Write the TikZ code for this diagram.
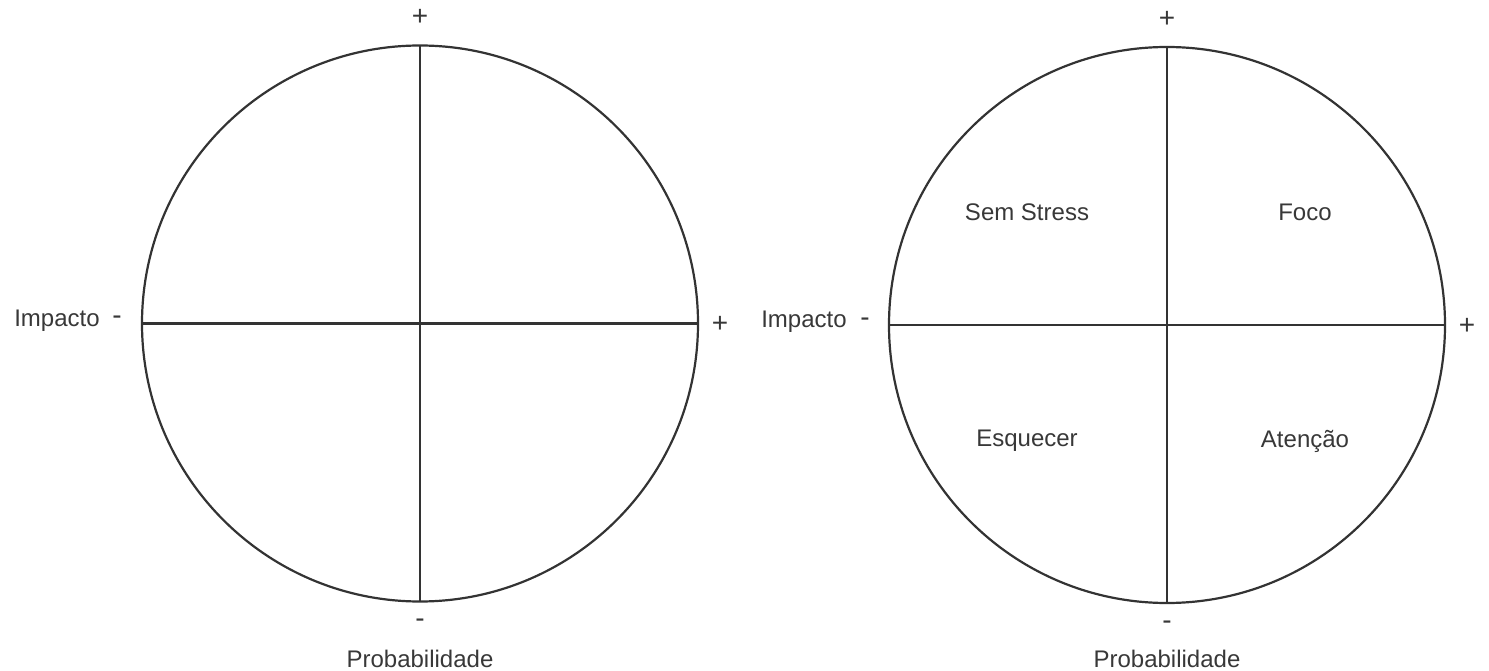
\documentclass[tikz,border=0pt]{standalone}
\usepackage{fontspec}
\setmainfont{Liberation Sans}
\usepackage{xcolor}
\usetikzlibrary{positioning, calc}
\definecolor{inkgray}{HTML}{333333}
\definecolor{textgray}{HTML}{383838}

\begin{document}
\begin{tikzpicture}[
	x=0.5pt, y=0.5pt,
	% --- Styles ---
	matrixcircle/.style={
		circle, draw=inkgray, line width=1.1pt, minimum size=278pt, inner sep=0pt, outer sep=0pt
	},
	axis/.style={
		draw=inkgray, line width=1.1pt
	},
	signlabel/.style={
		font=\fontsize{14}{16}\selectfont, text=textgray, inner sep=0pt
	},
	axislabel/.style={
		font=\fontsize{12}{14}\selectfont, text=textgray, inner sep=0pt
	},
	quadlabel/.style={
		font=\fontsize{12}{14}\selectfont, text=textgray, inner sep=0pt
	}
	]
	\useasboundingbox (0,0) rectangle (1489,670);

	% --- 1. Left matrix (empty) ---
	\node [matrixcircle] (lcirc) at (420,346.5) {};
	\draw [axis] (lcirc.north) -- (lcirc.south);
	\draw [axis] (lcirc.west) -- (lcirc.east);

	% Axis signs and names
	\node [signlabel] (ltop) at ($(lcirc.north)+(0,28)$) {+};
	\node [signlabel] (lright) at ($(lcirc.east)+(22,-1)$) {+};
	\node [signlabel] (lleft) at ($(lcirc.west)+(-25,3)$) {-};
	\node [signlabel] (lbot) at ($(lcirc.south)+(0,-22)$) {-};
	\node [axislabel] (limpact) at ($(lcirc.west)+(-85,3)$) {Impacto};
	\node [axislabel] (lprob) at ($(lcirc.south)+(0,-57)$) {Probabilidade};

	% --- 2. Right matrix (with quadrants) ---
	\node [matrixcircle] (rcirc) at (1167,345) {};
	\draw [axis] (rcirc.north) -- (rcirc.south);
	\draw [axis] (rcirc.west) -- (rcirc.east);

	% Axis signs and names
	\node [signlabel] (rtop) at ($(rcirc.north)+(0,28)$) {+};
	\node [signlabel] (rright) at ($(rcirc.east)+(22,-1)$) {+};
	\node [signlabel] (rleft) at ($(rcirc.west)+(-24,3)$) {-};
	\node [signlabel] (rbot) at ($(rcirc.south)+(0,-22)$) {-};
	\node [axislabel] (rimpact) at ($(rcirc.west)+(-85,3)$) {Impacto};
	\node [axislabel] (rprob) at ($(rcirc.south)+(0,-56)$) {Probabilidade};

	% Quadrant names
	\node [quadlabel] (qsem) at ($(rcirc.center)+(-140,113)$) {Sem Stress};
	\node [quadlabel] (qfoco) at ($(rcirc.center)+(138,113)$) {Foco};
	\node [quadlabel] (qesq) at ($(rcirc.center)+(-140,-116)$) {Esquecer};
	\node [quadlabel] (qatt) at ($(rcirc.center)+(138,-116)$) {Atenção};

\end{tikzpicture}
\end{document}
